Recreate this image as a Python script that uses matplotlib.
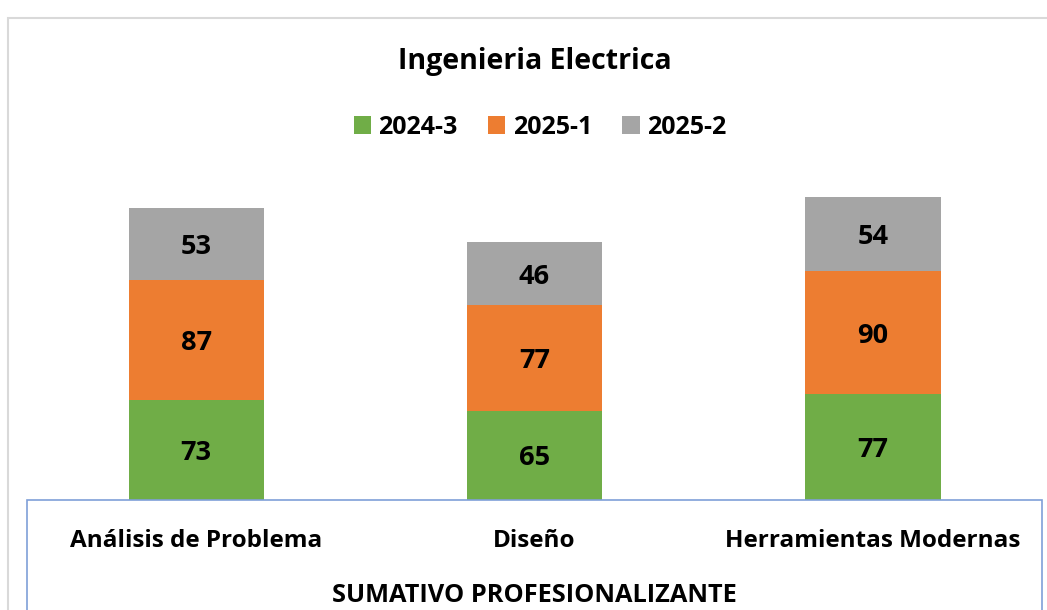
import matplotlib.pyplot as plt
from matplotlib.patches import Rectangle
import numpy as np

plt.rcParams['font.family'] = ['Open Sans', 'DejaVu Sans']

categories = ["Análisis de Problema", "Diseño", "Herramientas Modernas"]
series_names = ["2024-3", "2025-1", "2025-2"]
vals_2024_3 = [73, 65, 77]
vals_2025_1 = [87, 77, 90]
vals_2025_2 = [53, 46, 54]
colors = ["#70AD47", "#ED7D31", "#A5A5A5"]

W, H = 1047, 610
fig = plt.figure(figsize=(W / 100, H / 100), dpi=100)

# axes placed in pixel coords: x 27..1042, y(bottom)=500, top=157
ax = fig.add_axes([27 / W, (H - 500) / H, 1015 / W, 343 / H])
x = np.arange(len(categories))
bottom = np.zeros(len(categories))
for name, vals, col in zip(series_names, [vals_2024_3, vals_2025_1, vals_2025_2], colors):
    bars = ax.bar(x, vals, width=0.4, bottom=bottom, color=col, label=name)
    for b, v, b0 in zip(bars, vals, bottom):
        ax.text(b.get_x() + b.get_width() / 2, b0 + v / 2, str(v),
                ha="center", va="center_baseline", fontsize=19.5, fontweight="bold", color="black")
    bottom += np.array(vals)

ax.set_xlim(-0.5, 2.5)
ax.set_ylim(0, 250)
ax.axis("off")

# category box below the bars
fig.patches.append(Rectangle((27 / W, -0.05), 1015 / W, (H - 500) / H + 0.05,
                             transform=fig.transFigure, fill=False,
                             edgecolor="#7F9FD8", linewidth=1.2))
for i, cat in enumerate(categories):
    fig.text((27 + 1015 * (i + 0.5) / 3) / W, 1 - 538 / H, cat,
             ha="center", va="center_baseline", fontsize=17.5, fontweight="bold")
fig.text(534 / W, 1 - 593 / H, "SUMATIVO PROFESIONALIZANTE",
         ha="center", va="center_baseline", fontsize=18.3, fontweight="bold")

# outer chart border
fig.patches.append(Rectangle((8 / W, -0.05), 1.1, 1 - 18 / H + 0.05,
                             transform=fig.transFigure, fill=False,
                             edgecolor="#D9D9D9", linewidth=1.5))

fig.text(535 / W, 1 - 58 / H, "Ingenieria Electrica",
         ha="center", va="center_baseline", fontsize=20.5, fontweight="bold")

fig.legend(loc="center", bbox_to_anchor=(540 / W, 1 - 127 / H), ncol=3, frameon=False,
           prop={"size": 18, "weight": "bold"}, handlelength=0.7, handleheight=0.7,
           handletextpad=0.3, columnspacing=1.2)

fig.savefig("out.png", dpi=100)
